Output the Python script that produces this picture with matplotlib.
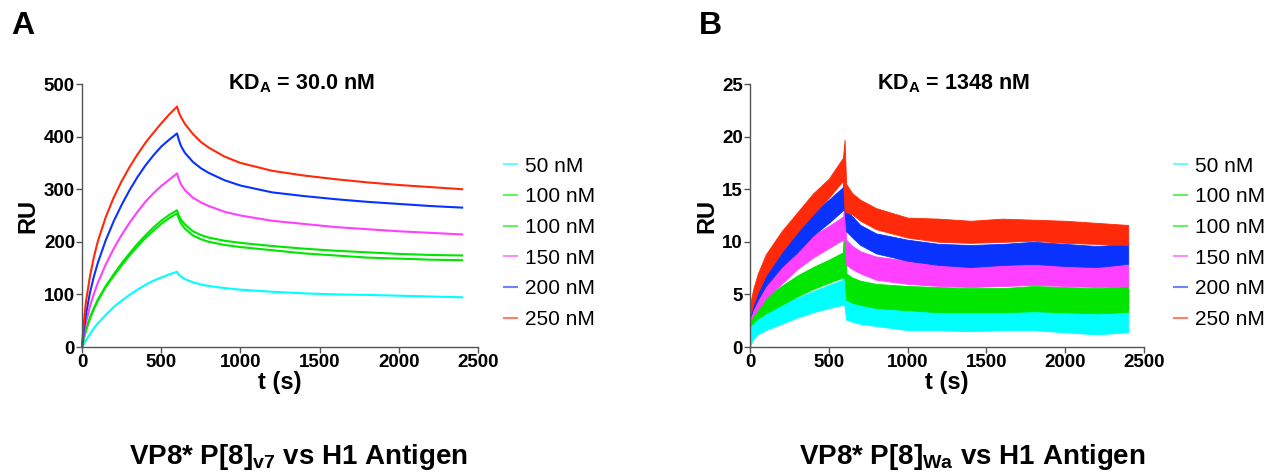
import matplotlib
matplotlib.use("Agg")
import matplotlib.pyplot as plt
import numpy as np
from matplotlib.lines import Line2D

plt.rcParams["font.family"] = ["Liberation Sans", "DejaVu Sans"]
plt.rcParams["mathtext.fontset"] = "custom"
plt.rcParams["mathtext.rm"] = "Liberation Sans"
plt.rcParams["mathtext.bf"] = "Liberation Sans:bold"

# ---- panel A: smooth sensorgrams (RU) ----
T_ASSOC_A = [0, 10, 25, 50, 75, 100, 150, 200, 250, 300, 350, 400, 450, 500, 550, 600]
T_DISS_A = [610, 625, 650, 700, 750, 800, 900, 1000, 1200, 1400, 1600, 1800, 2000, 2200, 2400]

RU_A = {
    "50 nM": [0, 5, 13, 24, 36, 45, 61, 76, 88, 99, 109, 118, 126, 132, 138, 143,
              138, 134, 129, 123, 119, 116, 112, 109, 105, 102, 100, 99, 97.5, 96, 94.5],
    "100 nM (1)": [0, 15, 33, 56, 74, 90, 116, 138, 159, 178, 196, 212, 227, 240, 251, 260,
                   251, 242, 233, 220, 213, 208, 202, 198, 192, 187, 183, 180, 177, 175, 174],
    "100 nM (2)": [0, 14, 31, 54, 72, 88, 114, 135, 155, 174, 191, 207, 221, 234, 245, 254,
                   245, 235, 225, 212, 205, 200, 194, 190, 184, 178, 174, 170, 168, 166, 165],
    "150 nM": [0, 21, 46, 77, 101, 122, 157, 187, 213, 236, 257, 276, 292, 306, 318, 330,
               320, 309, 298, 284, 275, 268, 257, 250, 240, 234, 228, 224, 220, 217, 214],
    "200 nM": [0, 28, 62, 103, 134, 160, 203, 239, 270, 298, 323, 345, 364, 381, 394, 406,
               395, 382, 369, 352, 340, 331, 317, 307, 294, 287, 281, 276, 272, 268, 265],
    "250 nM": [0, 42, 86, 134, 171, 201, 247, 284, 315, 342, 366, 388, 407, 425, 442, 457,
               447, 437, 424, 405, 390, 379, 362, 350, 335, 326, 319, 313, 308, 304, 300],
}

# ---- panel B: noisy traces, given as lower / upper edge of the noise band ----
T_B = [0, 20, 50, 100, 200, 300, 400, 500, 590, 600, 610, 650, 700, 800,
       1000, 1200, 1400, 1600, 1800, 2000, 2200, 2400]

LOW_B = {
    "50 nM": [0.0, 0.8, 1.2, 1.6, 2.2, 2.8, 3.3, 3.7, 4.0, 3.9, 2.6, 2.4, 2.2, 2.0,
              1.6, 1.6, 1.5, 1.6, 1.6, 1.4, 1.2, 1.4],
    "100 nM (1)": [2.2, 2.5, 2.9, 3.4, 4.2, 5.0, 5.8, 6.4, 6.9, 6.9, 4.8, 4.5, 4.3, 4.0,
                   3.8, 3.6, 3.6, 3.6, 3.7, 3.6, 3.5, 3.6],
    "100 nM (2)": [2.0, 2.3, 2.7, 3.2, 4.0, 4.8, 5.5, 6.1, 6.6, 6.6, 4.5, 4.2, 4.0, 3.7,
                   3.5, 3.3, 3.3, 3.3, 3.4, 3.3, 3.2, 3.3],
    "150 nM": [2.5, 3.0, 3.6, 4.6, 6.0, 7.4, 8.5, 9.4, 10.2, 10.2, 7.8, 7.4, 7.0, 6.4,
               6.0, 5.8, 5.7, 5.8, 5.9, 5.8, 5.7, 5.8],
    "200 nM": [2.8, 3.6, 4.5, 5.8, 7.6, 9.0, 10.6, 11.8, 13.0, 13.0, 11.0, 10.4, 9.7, 8.9,
               8.2, 7.8, 7.6, 7.8, 7.9, 7.7, 7.6, 7.9],
    "250 nM": [3.0, 4.0, 5.2, 6.8, 9.0, 10.9, 12.6, 14.2, 15.8, 13.0, 12.8, 12.6, 12.0, 11.2,
               10.4, 10.0, 9.9, 10.0, 10.1, 9.9, 9.8, 9.7],
}
HIGH_B = {
    "50 nM": [2.0, 2.4, 2.8, 3.3, 4.0, 4.7, 5.3, 5.9, 6.4, 10.0, 4.6, 4.2, 4.0, 3.7,
              3.5, 3.4, 3.4, 3.4, 3.4, 3.3, 3.2, 3.2],
    "100 nM (1)": [3.0, 3.5, 4.0, 4.8, 5.8, 6.8, 7.6, 8.3, 9.0, 12.5, 7.0, 6.6, 6.3, 6.0,
                   5.8, 5.7, 5.6, 5.6, 5.8, 5.7, 5.6, 5.8],
    "100 nM (2)": [2.8, 3.3, 3.8, 4.5, 5.5, 6.5, 7.3, 8.0, 8.7, 11.5, 6.7, 6.3, 6.0, 5.7,
                   5.5, 5.4, 5.3, 5.3, 5.5, 5.4, 5.3, 5.5],
    "150 nM": [3.5, 4.2, 5.0, 6.3, 8.0, 9.4, 10.6, 11.5, 12.4, 13.5, 10.2, 9.6, 9.1, 8.6,
               8.2, 8.0, 7.9, 7.9, 8.0, 7.9, 7.8, 7.8],
    "200 nM": [3.8, 4.8, 6.0, 7.6, 9.6, 11.2, 12.8, 14.0, 15.2, 17.0, 13.0, 12.4, 11.6, 10.8,
               10.2, 9.8, 9.7, 9.8, 10.0, 9.8, 9.6, 9.8],
    "250 nM": [4.0, 5.5, 7.0, 8.8, 11.0, 12.8, 14.6, 16.0, 18.0, 19.7, 15.5, 14.6, 14.0, 13.2,
               12.3, 12.2, 12.0, 12.2, 12.1, 12.0, 11.8, 11.6],
}

SERIES = ["50 nM", "100 nM (1)", "100 nM (2)", "150 nM", "200 nM", "250 nM"]
COLORS = ["#00ffff", "#00e600", "#00e600", "#ff40ff", "#0a32ff", "#ff2a0a"]
LEGEND_LABELS = ["50 nM", "100 nM", "100 nM", "150 nM", "200 nM", "250 nM"]


def style_axes(ax, ymax, ystep):
    ax.set_xlim(0, 2500)
    ax.set_ylim(0, ymax)
    ax.set_xticks(np.arange(0, 2501, 500))
    ax.set_yticks(np.arange(0, ymax + 1, ystep))
    for side in ["top", "right"]:
        ax.spines[side].set_visible(False)
    for side in ["left", "bottom"]:
        ax.spines[side].set_color("#555555")
        ax.spines[side].set_linewidth(1.0)
    ax.tick_params(direction="out", length=4, width=1.0, color="#555555",
                   labelsize=13.5, pad=1)
    for lab in ax.get_xticklabels() + ax.get_yticklabels():
        lab.set_fontweight("bold")
    ax.set_xlabel("t (s)", fontsize=17, fontweight="bold", labelpad=0)
    ax.set_ylabel("RU", fontsize=17, fontweight="bold", labelpad=3)


def add_legend(ax, x_anchor):
    handles = [Line2D([], [], color=c, lw=1.5, alpha=0.6) for c in COLORS]
    ax.legend(handles, LEGEND_LABELS, loc="upper left", bbox_to_anchor=(x_anchor, 0.755),
              frameon=False, fontsize=15, handlelength=0.6, handletextpad=0.4,
              labelspacing=0.56, borderaxespad=0)


fig = plt.figure(figsize=(12.66, 4.73), dpi=100)
ax_a = fig.add_axes([82 / 1266, 126 / 473, 396 / 1266, 263 / 473])
ax_b = fig.add_axes([750 / 1266, 126 / 473, 394 / 1266, 263 / 473])

t_a = np.array(T_ASSOC_A + T_DISS_A)
for name, color in zip(SERIES, COLORS):
    ax_a.plot(t_a, RU_A[name], color=color, lw=1.5, clip_on=False)
style_axes(ax_a, 500, 100)
ax_a.text(1383, 500, r"KD$_{\mathbf{A}}$ = 30.0 nM", ha="center", va="center",
          fontsize=15.5, fontweight="bold")
add_legend(ax_a, 1.045)

t_b = np.array(T_B)
for name, color in zip(SERIES, COLORS):
    ax_b.fill_between(t_b, LOW_B[name], HIGH_B[name], color=color, lw=0.6,
                      edgecolor=color)
style_axes(ax_b, 25, 5)
ax_b.text(1288, 25, r"KD$_{\mathbf{A}}$ = 1348 nM", ha="center", va="center",
          fontsize=15.5, fontweight="bold")
add_legend(ax_b, 1.055)

fig.text(11 / 1266, 1 - 26 / 473, "A", fontsize=23, fontweight="bold", va="center")
fig.text(699 / 1266, 1 - 26 / 473, "B", fontsize=23, fontweight="bold", va="center")

fig.text(299 / 1266, 1 - 457 / 473, r"VP8* P[8]$_{\mathbf{v7}}$ vs H1 Antigen",
         ha="center", va="center", fontsize=20, fontweight="bold")
fig.text(972 / 1266, 1 - 457 / 473, r"VP8* P[8]$_{\mathbf{Wa}}$ vs H1 Antigen",
         ha="center", va="center", fontsize=20, fontweight="bold")

fig.savefig("out.png", dpi=100)
